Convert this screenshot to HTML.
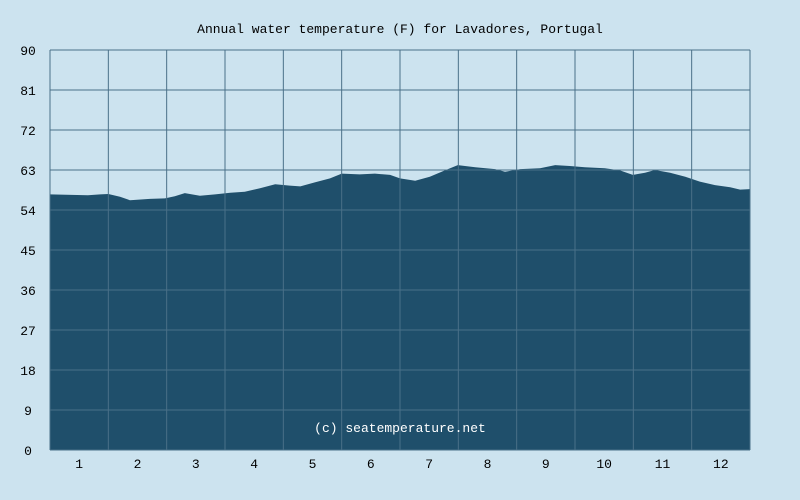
<!DOCTYPE html>
<html><head><meta charset="utf-8"><style>
html,body{margin:0;padding:0;background:#cce3ef;}
svg{display:block;font-family:"Liberation Mono","DejaVu Sans Mono",monospace;}
</style></head><body>
<svg id="chart" width="800" height="500">
<rect width="800" height="500" fill="#cce3ef"/>
<text x="400" y="33" text-anchor="middle" font-size="13" fill="#000">Annual water temperature (F) for Lavadores, Portugal</text>
<g id="plot"></g>
</svg>
<script>
const months = [0,0.65,0.86,1.0,1.2,1.37,1.71,1.97,2.14,2.31,2.57,2.83,3.09,3.34,3.6,3.86,4.11,4.29,4.54,4.8,5.0,5.31,5.57,5.83,6.0,6.26,6.51,6.77,6.99,7.29,7.63,7.8,8.06,8.4,8.66,8.91,9.17,9.51,9.77,9.99,10.2,10.37,10.63,10.89,11.14,11.4,11.66,11.83,12];
const temps = [57.5,57.3,57.5,57.6,57.0,56.2,56.5,56.6,57.1,57.8,57.2,57.5,57.9,58.1,58.9,59.8,59.5,59.3,60.2,61.1,62.2,62.0,62.2,61.9,61.1,60.6,61.5,62.9,64.1,63.6,63.2,62.6,63.2,63.4,64.1,63.9,63.6,63.4,62.9,61.9,62.4,63.0,62.4,61.5,60.4,59.6,59.1,58.6,58.7];
const yTicks = [0,9,18,27,36,45,54,63,72,81,90];
const xLabels = ["1","2","3","4","5","6","7","8","9","10","11","12"];
const X0=50,X1=750,Y0=450,Y1=50;
const xs = m => X0 + (X1-X0)*m/12;
const ys = v => Y0 - (Y0-Y1)*v/90;
const NS="http://www.w3.org/2000/svg";
const g=document.getElementById('plot');
function mk(t,a){const e=document.createElementNS(NS,t);for(const k in a)e.setAttribute(k,a[k]);g.appendChild(e);return e;}
const bg=mk('rect',{x:X0,y:Y1,width:X1-X0,height:Y0-Y1,fill:'#cce3ef'});


let d=`M${xs(0)},${ys(0)} `;
months.forEach((m,i)=>{d+=`L${xs(m).toFixed(1)},${ys(temps[i]).toFixed(1)} `;});
d+=`L${xs(12)},${ys(0)} Z`;
const area=mk('path',{d:d,fill:'#1f4f6b'});


yTicks.forEach(v=>{
  const l=mk('line',{x1:X0,x2:X1,y1:ys(v),y2:ys(v),stroke:'#4a7088','stroke-width':1});
  
  
  const t=mk('text',{x:28,y:ys(v)+5,'text-anchor':'middle','font-size':13,fill:'#000'});
  t.textContent=v;
  
  
});
for(let i=0;i<=12;i++){
  const l=mk('line',{x1:xs(i),x2:xs(i),y1:Y1,y2:Y0,stroke:'#4a7088','stroke-width':1});
  
  
}
xLabels.forEach((s,i)=>{
  const t=mk('text',{x:xs(i+0.5),y:468,'text-anchor':'middle','font-size':13,fill:'#000'});
  t.textContent=s;
  
  
});
const c=mk('text',{x:400,y:432,'text-anchor':'middle','font-size':13,fill:'#fff'});
c.textContent='(c) seatemperature.net';


</script>
</body></html>
